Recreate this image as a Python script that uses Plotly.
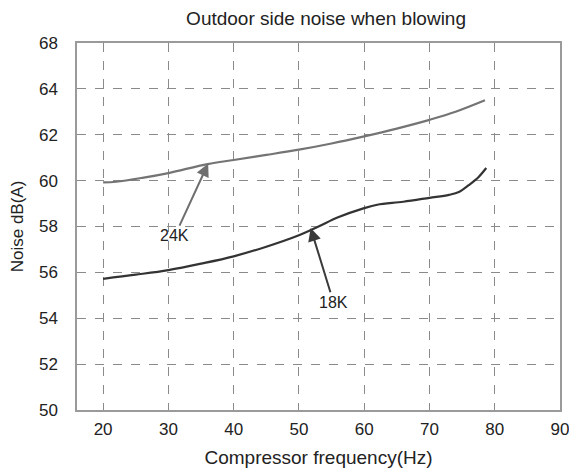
import plotly.graph_objects as go

# Data
freq_24k = [20, 22, 26, 30, 36, 40, 45, 50, 55, 60, 65, 70, 74, 78.5]
noise_24k = [59.92, 59.95, 60.12, 60.33, 60.72, 60.9, 61.12, 61.35, 61.62, 61.93, 62.27, 62.65, 63.0, 63.5]

freq_18k = [20, 25, 30, 35, 40, 45, 50, 53, 56, 60, 62, 66, 70, 73, 74.5, 76, 77.5, 78.7]
noise_18k = [55.72, 55.9, 56.1, 56.38, 56.7, 57.12, 57.62, 58.0, 58.4, 58.8, 58.95, 59.08, 59.25, 59.38, 59.5, 59.8, 60.15, 60.55]

y_tickvals = [50, 52, 54, 56, 58, 60, 62, 64, 66]
y_ticktext = ["50", "52", "54", "56", "58", "60", "62", "64", "68"]
x_tickvals = [20, 30, 40, 50, 60, 70, 80, 90]

title_text = "Outdoor side noise when blowing"
x_title = "Compressor frequency(Hz)"
y_title = "Noise dB(A)"

font_family = "Liberation Sans, Arial, sans-serif"

fig = go.Figure()
fig.add_trace(go.Scatter(x=freq_24k, y=noise_24k, mode="lines",
                         line=dict(color="#747474", width=2.2, shape="spline"),
                         showlegend=False, hoverinfo="skip"))
fig.add_trace(go.Scatter(x=freq_18k, y=noise_18k, mode="lines",
                         line=dict(color="#333333", width=2.2, shape="spline"),
                         showlegend=False, hoverinfo="skip"))

ann_common = dict(xref="x", yref="y", axref="x", ayref="y", showarrow=True,
                  arrowhead=2, arrowsize=1.3, arrowwidth=2,
                  font=dict(family=font_family, size=16, color="#222"))
fig.add_annotation(x=36.1, y=60.75, ax=31.0, ay=57.6, text="24K",
                   arrowcolor="#6e6e6e", **ann_common)
fig.add_annotation(x=51.8, y=57.93, ax=55.3, ay=54.7, text="18K",
                   arrowcolor="#3a3a3a", **ann_common)

# page body adds an 8px offset, so the figure is sized to compensate
fig.update_layout(
    width=569, height=465,
    margin=dict(l=69, r=17, t=35, b=63),
    paper_bgcolor="white", plot_bgcolor="white",
    font=dict(family=font_family, size=17, color="#222"),
    title=dict(text=title_text, x=0.559, xanchor="center", y=0.978, yanchor="middle",
               font=dict(size=19, color="#222")),
)
fig.update_xaxes(
    range=[16, 90], tickvals=x_tickvals, automargin=False,
    showgrid=True, gridcolor="#8a8a8a", griddash="dash", gridwidth=1,
    showline=True, linecolor="#9a9a9a", linewidth=1.5, mirror=True,
    ticks="outside", ticklen=3, tickcolor="rgba(0,0,0,0)",
    ticklabeloverflow="allow",
    zeroline=False,
    title=dict(text=x_title, font=dict(size=19), standoff=13),
)
fig.update_yaxes(
    range=[50, 66], tickvals=y_tickvals, ticktext=y_ticktext, automargin=False,
    showgrid=True, gridcolor="#8a8a8a", griddash="dash", gridwidth=1,
    showline=True, linecolor="#9a9a9a", linewidth=1.5, mirror=True,
    ticks="outside", ticklen=14, tickcolor="rgba(0,0,0,0)",
    ticklabeloverflow="allow",
    zeroline=False,
    title=dict(text=y_title, font=dict(size=17), standoff=17),
)

fig.write_html("out.html")
